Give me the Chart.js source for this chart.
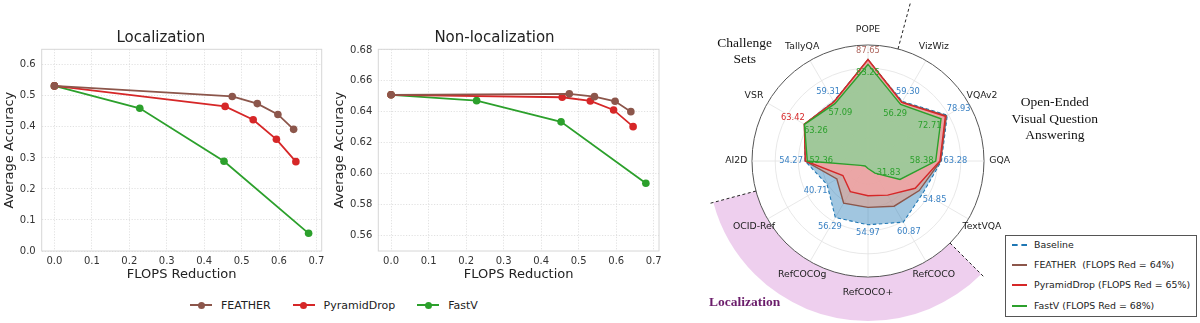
<!DOCTYPE html>
<html>
<head>
<meta charset="utf-8">
<script src="https://cdn.jsdelivr.net/npm/chart.js@4.4.1/dist/chart.umd.min.js"></script>
<style>
  html, body { margin: 0; padding: 0; background: #fff; }
  #wrap { position: relative; width: 1200px; height: 323px; overflow: hidden; font-family: 'DejaVu Sans', sans-serif; }
  canvas { position: absolute; top: 0; }
  #lineLegend { position: absolute; left: 190px; top: 296px; height: 18px; display: flex; align-items: center; font-size: 11px; color: #222; }
  #lineLegend .item { display: flex; align-items: center; margin-right: 22px; }
  #lineLegend .handle { position: relative; width: 22px; height: 2px; margin-right: 9px; }
  #lineLegend .dot { position: absolute; left: 7.5px; top: -2.5px; width: 7px; height: 7px; border-radius: 50%; }
  #radarLegend { position: absolute; left: 1005px; top: 235px; width: 190px; height: 80px; border: 1px solid #555; background: #fff; font-size: 9.4px; color: #222; }
  #radarLegend .row { position: absolute; left: 0; height: 20px; line-height: 20px; white-space: pre; }
  #radarLegend .handle { position: absolute; left: 6px; top: 9px; width: 15px; height: 0; }
  #radarLegend .label { position: absolute; left: 28px; top: 0; }
</style>
</head>
<body>
<div id="wrap">
  <canvas id="locChart" width="330" height="290" style="left:0"></canvas>
  <canvas id="nonLocChart" width="340" height="290" style="left:330px"></canvas>
  <canvas id="radarChart" width="510" height="323" style="left:690px"></canvas>
  <div id="lineLegend"></div>
  <div id="radarLegend"></div>
</div>
<script>
// ========================
// DATA: FLOPS reduction curves
// ========================
const methods = ["FEATHER", "PyramidDrop", "FastV"];
const methodColors = ["#8c564b", "#d62728", "#2ca02c"];

const featherFlops = [0, 0.475, 0.542, 0.597, 0.639];
const pyramidFlops = [0, 0.456, 0.531, 0.593, 0.645];
const fastvFlops = [0, 0.228, 0.453, 0.679];

const featherLoc = [0.532, 0.498, 0.475, 0.440, 0.392];
const pyramidLoc = [0.532, 0.466, 0.423, 0.360, 0.288];
const fastvLoc = [0.532, 0.460, 0.289, 0.057];

const featherNonLoc = [0.651, 0.6516, 0.6498, 0.6468, 0.6401];
const pyramidNonLoc = [0.651, 0.6494, 0.6470, 0.6412, 0.6304];
const fastvNonLoc = [0.651, 0.6472, 0.6335, 0.5938];

const xTicks = [0, 0.1, 0.2, 0.3, 0.4, 0.5, 0.6, 0.7];
const locTicks = [0, 0.1, 0.2, 0.3, 0.4, 0.5, 0.6];
const nonLocTicks = [0.56, 0.58, 0.60, 0.62, 0.64, 0.66, 0.68];

// ========================
// DATA: radar benchmarks
// ========================
const radarAxes = ["POPE", "VizWiz", "VQAv2", "GQA", "TextVQA", "RefCOCO", "RefCOCO+",
                   "RefCOCOg", "OCID-Ref", "AI2D", "VSR", "TallyQA"];
const baselineScores = [86.9, 59.30, 78.93, 63.28, 54.85, 60.87, 54.97, 56.29, 40.71, 54.27, 63.3, 59.31];
const featherScores = [87.65, 58.6, 78.0, 62.6, 51.0, 45.0, 40.0, 42.0, 31.0, 54.0, 63.2, 58.9];
const pyramidScores = [87.4, 58.3, 77.0, 62.0, 47.0, 34.0, 30.0, 30.5, 25.0, 54.0, 63.42, 58.7];
const fastvScores = [83.25, 56.29, 72.71, 58.38, 31.83, 12.0, 6.5, 5.0, 7.5, 52.36, 63.26, 57.09];

const radarSeries = ["Baseline", "FEATHER  (FLOPS Red = 64%)", "PyramidDrop (FLOPS Red = 65%)", "FastV (FLOPS Red = 68%)"];
// which series is written outside each axis (0 baseline, 1 feather, 2 pyramid)
const outerNoteSeries = [1, 0, 0, 0, 0, 0, 0, 0, 0, 0, 2, 0];
// FastV values written inside, only on the non-localization axes
const innerNoteAxes = [0, 1, 2, 3, 4, 9, 10, 11];

// group separators, degrees clockwise from POPE
const groupBounds = [15, 135, 255];
const locBand = [135, 255];

Chart.defaults.font.family = "'DejaVu Sans', sans-serif";
Chart.defaults.color = "#333";

// ========================
// LINE CHARTS
// ========================
const frame = {
  id: "frame",
  beforeDatasetsDraw(chart) {
    const a = chart.chartArea, c = chart.ctx;
    c.save();
    c.strokeStyle = "#d6d6d6";
    c.lineWidth = 1;
    c.strokeRect(a.left, a.top, a.right - a.left, a.bottom - a.top);
    c.restore();
  }
};

function points(xs, ys) {
  return xs.map((x, i) => ({ x: x, y: ys[i] }));
}

function lineChart(id, title, ys, yMin, yMax, yTicks, digits, yWidth, rightPad) {
  const xsList = [featherFlops, pyramidFlops, fastvFlops];
  return new Chart(document.getElementById(id), {
    type: "line",
    data: {
      datasets: methods.map((m, k) => ({
        label: m,
        data: points(xsList[k], ys[k]),
        borderColor: methodColors[k],
        backgroundColor: methodColors[k],
        borderWidth: 1.8,
        pointRadius: 3.8,
        pointBorderWidth: 0,
        tension: 0
      }))
    },
    options: {
      responsive: false,
      animation: false,
      layout: { padding: { left: 0, right: rightPad, top: 0, bottom: 0 } },
      plugins: {
        legend: { display: false },
        tooltip: { enabled: false },
        title: { display: true, text: title, color: "#222", font: { size: 15, weight: "normal" }, padding: { top: 29, bottom: 2.3 } }
      },
      scales: {
        x: {
          type: "linear", min: -0.034, max: 0.714,
          afterBuildTicks: s => { s.ticks = xTicks.map(v => ({ value: v })); },
          afterFit: s => { s.height = 39; },
          grid: { color: "#d9d9d9", lineWidth: 0.8, drawTicks: false },
          border: { display: false, dash: [1.2, 1.6] },
          ticks: { padding: 4, color: "#333", font: { size: 10 }, autoSkip: false, maxRotation: 0, callback: v => v.toFixed(1) },
          title: { display: true, text: "FLOPS Reduction", color: "#222", font: { size: 13 }, padding: { top: 0, bottom: 7.2 } }
        },
        y: {
          min: yMin, max: yMax,
          afterBuildTicks: s => { s.ticks = yTicks.map(v => ({ value: v })); },
          afterFit: s => { s.width = yWidth; },
          grid: { color: "#d9d9d9", lineWidth: 0.8, drawTicks: false },
          border: { display: false, dash: [1.2, 1.6] },
          ticks: { padding: 6, color: "#333", font: { size: 10 }, autoSkip: false, callback: v => v.toFixed(digits) },
          title: { display: true, text: "Average Accuracy", color: "#222", font: { size: 13 }, padding: { top: 2.2, bottom: 0 } }
        }
      }
    },
    plugins: [frame]
  });
}

lineChart("locChart", "Localization", [featherLoc, pyramidLoc, fastvLoc], 0, 0.65, locTicks, 1, 41.7, 8.3);
lineChart("nonLocChart", "Non-localization", [featherNonLoc, pyramidNonLoc, fastvNonLoc], 0.55, 0.6804, nonLocTicks, 2, 48.3, 11);

// shared legend under the two line charts
const lineLegend = document.getElementById("lineLegend");
methods.forEach((m, k) => {
  const item = document.createElement("div");
  item.className = "item";
  item.innerHTML = `<span class="handle" style="background:${methodColors[k]}"><span class="dot" style="background:${methodColors[k]}"></span></span><span>${m}</span>`;
  lineLegend.appendChild(item);
});

// ========================
// RADAR CHART
// ========================
const radarLine = ["#1f77b4", "#8c564b", "#d62728", "#2ca02c"];
const radarFill = ["rgba(31,119,180,0.42)", "rgba(226,160,142,0.6)", "rgba(250,164,164,0.72)", "rgba(132,214,150,0.72)"];
const radarScores = [baselineScores, featherScores, pyramidScores, fastvScores];
const noteColors = ["#3b82c4", "#b06a62", "#d62728", "#2ca02c"];

function deg(d) { return (d - 90) * Math.PI / 180; }

const radarDecor = {
  id: "radarDecor",
  beforeDraw(chart) {
    const s = chart.scales.r, c = chart.ctx;
    const cx = s.xCenter, cy = s.yCenter, R = s.drawingArea;
    c.save();
    c.fillStyle = "rgba(221,160,221,0.5)";
    c.beginPath();
    c.arc(cx, cy, R * 1.38, deg(locBand[0]), deg(locBand[1]));
    c.arc(cx, cy, R, deg(locBand[1]), deg(locBand[0]), true);
    c.closePath();
    c.fill();
    c.restore();
  },
  afterDatasetsDraw(chart) {
    const s = chart.scales.r, c = chart.ctx;
    const cx = s.xCenter, cy = s.yCenter, R = s.drawingArea;
    c.save();

    // dashed group separators
    c.strokeStyle = "#222";
    c.lineWidth = 1;
    c.setLineDash([3, 2.5]);
    groupBounds.forEach(a => {
      c.beginPath();
      c.moveTo(cx + Math.cos(deg(a)) * R, cy + Math.sin(deg(a)) * R);
      c.lineTo(cx + Math.cos(deg(a)) * R * 1.42, cy + Math.sin(deg(a)) * R * 1.42);
      c.stroke();
    });
    c.setLineDash([]);

    // axis names
    c.textAlign = "center";
    c.textBaseline = "middle";
    c.fillStyle = "#222";
    c.font = "9.3px 'DejaVu Sans'";
    radarAxes.forEach((name, i) => {
      const p = s.getPointPosition(i, R * 1.135);
      c.fillText(name, p.x, p.y);
    });

    // value notes
    c.font = "8.3px 'DejaVu Sans'";
    const noteAt = (i, value, dir, color) => {
      const ang = s.getIndexAngle(i);
      const gap = 8 + 6 * Math.abs(Math.sin(ang));
      const p = s.getPointPosition(i, s.getDistanceFromCenterForValue(value) + dir * gap);
      c.fillStyle = color;
      c.fillText(value.toFixed(2), p.x, p.y);
    };
    radarAxes.forEach((name, i) => {
      const k = outerNoteSeries[i];
      noteAt(i, radarScores[k][i], 1, noteColors[k]);
    });
    innerNoteAxes.forEach(i => noteAt(i, fastvScores[i], -1, noteColors[3]));

    // group titles
    c.font = "13.5px 'Liberation Serif', serif";
    c.fillStyle = "#111";
    c.fillText("Challenge", cx - 1.063 * R, cy - 1.017 * R);
    c.fillText("Sets", cx - 1.063 * R, cy - 0.874 * R);
    c.fillText("Open-Ended", cx + 1.61 * R, cy - 0.503 * R);
    c.fillText("Visual Question", cx + 1.61 * R, cy - 0.36 * R);
    c.fillText("Answering", cx + 1.61 * R, cy - 0.216 * R);
    c.font = "bold 13.5px 'Liberation Serif', serif";
    c.fillStyle = "#6b1d6b";
    c.fillText("Localization", cx - 1.063 * R, cy + 1.216 * R);
    c.restore();
  }
};

new Chart(document.getElementById("radarChart"), {
  type: "radar",
  data: {
    labels: radarAxes,
    datasets: radarSeries.map((name, k) => ({
      label: name,
      data: radarScores[k],
      borderColor: radarLine[k],
      backgroundColor: radarFill[k],
      borderWidth: k === 0 ? 1.1 : 1.4,
      borderDash: k === 0 ? [3.5, 2.5] : [],
      fill: true,
      pointRadius: 0,
      order: 4 - k
    }))
  },
  options: {
    responsive: false,
    animation: false,
    layout: { padding: { left: 62, top: 45, right: 216, bottom: 46 } },
    plugins: { legend: { display: false }, tooltip: { enabled: false } },
    scales: {
      r: {
        min: 0, max: 100, startAngle: 0,
        ticks: { display: false, stepSize: 20 },
        pointLabels: { display: false },
        grid: {
          circular: true,
          color: c => c.tick && c.tick.value === 100 ? "#555" : "#e2e2e2",
          lineWidth: c => c.tick && c.tick.value === 100 ? 1 : 0.8
        },
        angleLines: { color: "#e2e2e2", lineWidth: 0.8 }
      }
    },
    elements: { line: { tension: 0 } }
  },
  plugins: [radarDecor]
});

// radar legend box
const radarLegend = document.getElementById("radarLegend");
radarSeries.forEach((name, k) => {
  const row = document.createElement("div");
  row.className = "row";
  row.style.top = (-1 + k * 20.2) + "px";
  row.style.width = "100%";
  const style = k === 0 ? "dashed" : "solid";
  row.innerHTML = `<span class="handle" style="border-top:2px ${style} ${radarLine[k]}"></span><span class="label">${name}</span>`;
  radarLegend.appendChild(row);
});
</script>
</body>
</html>
